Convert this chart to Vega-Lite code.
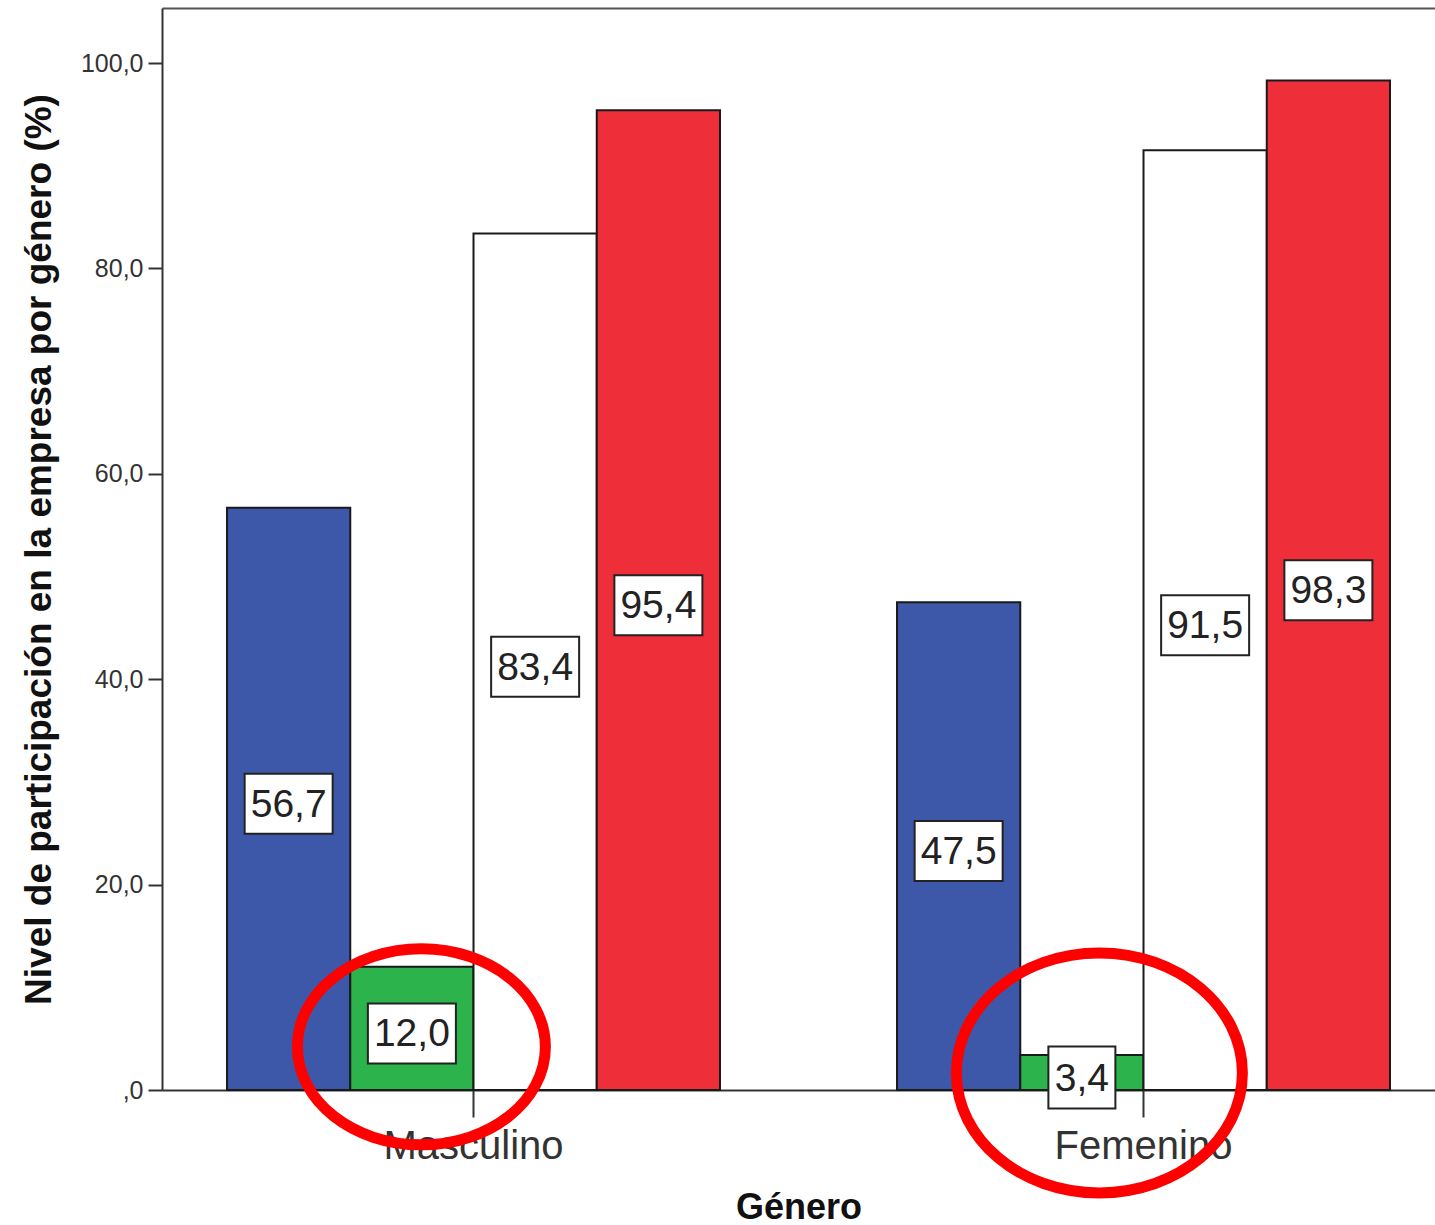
{
  "$schema": "https://vega.github.io/schema/vega-lite/v6.json",
  "autosize": {"type": "none"},
  "padding": {"left": 162, "top": 8, "right": 0, "bottom": 135},
  "width": 1273,
  "height": 1082,
  "background": "white",
  "config": {
    "view": {"stroke": null},
    "font": "Liberation Sans",
    "locale": {"number": {"decimal": ",", "thousands": ".", "grouping": [3], "currency": ["", " €"]}}
  },
  "datasets": {
    "barras": [
      {"genero": "Masculino", "serie": "azul", "valor": 56.7},
      {"genero": "Masculino", "serie": "verde", "valor": 12.0},
      {"genero": "Masculino", "serie": "blanco", "valor": 83.4},
      {"genero": "Masculino", "serie": "rojo", "valor": 95.4},
      {"genero": "Femenino", "serie": "azul", "valor": 47.5},
      {"genero": "Femenino", "serie": "verde", "valor": 3.4},
      {"genero": "Femenino", "serie": "blanco", "valor": 91.5},
      {"genero": "Femenino", "serie": "rojo", "valor": 98.3}
    ],
    "elipses": [
      {"genero": "Masculino", "serie": "verde", "valor": 4.2},
      {"genero": "Femenino", "serie": "verde", "valor": 1.66}
    ]
  },
  "data": {"name": "barras"},
  "encoding": {
    "x": {
      "field": "genero", "type": "nominal", "sort": ["Masculino", "Femenino"],
      "scale": {"paddingInner": 0.2642, "paddingOuter": 0.0821, "align": 0.591},
      "axis": null
    },
    "xOffset": {
      "field": "serie", "type": "nominal", "sort": ["azul", "verde", "blanco", "rojo"],
      "scale": {"paddingInner": 0, "paddingOuter": 0}
    },
    "y": {
      "field": "valor", "type": "quantitative",
      "scale": {"domain": [0, 105.36], "nice": false, "zero": true},
      "axis": {
        "title": "Nivel de participación en la empresa por género (%)",
        "titleFontSize": 37, "titleFontWeight": "bold", "titleColor": "#111111", "titlePadding": 22,
        "values": [0, 20, 40, 60, 80, 100],
        "format": ".1f",
        "labelExpr": "datum.value === 0 ? ',0' : datum.label",
        "labelFontSize": 25, "labelColor": "#333333", "labelPadding": 5,
        "tickSize": 14, "tickWidth": 2, "tickColor": "#333333",
        "domainColor": "#333333", "domainWidth": 2, "grid": false
      }
    }
  },
  "resolve": {"axis": {"x": "independent"}},
  "layer": [
    {
      "mark": {"type": "bar", "stroke": "#1a1a1a", "strokeWidth": 2},
      "encoding": {
        "x": {
          "field": "genero", "type": "nominal", "sort": ["Masculino", "Femenino"],
          "scale": {"paddingInner": 0.2642, "paddingOuter": 0.0821, "align": 0.591},
          "axis": {
            "orient": "bottom", "title": "Género",
            "titleFontSize": 36, "titleFontWeight": "bold", "titleColor": "#111111", "titlePadding": 24,
            "labelFontSize": 40, "labelColor": "#333333", "labelAngle": 0, "labelPadding": 9, "labelLimit": 0,
            "tickSize": 27, "tickWidth": 2, "tickColor": "#333333",
            "domainColor": "#333333", "domainWidth": 2, "grid": false
          }
        },
        "fill": {
          "field": "serie", "type": "nominal",
          "scale": {"domain": ["azul", "verde", "blanco", "rojo"], "range": ["#3d57a9", "#2db34b", "#ffffff", "#ee2f3a"]},
          "legend": null
        }
      }
    },
    {
      "transform": [{"calculate": "datum.valor / 2", "as": "medio"}],
      "layer": [
        {
          "mark": {"type": "point", "filled": true, "fill": "#ffffff", "stroke": "#222222", "strokeWidth": 2, "opacity": 1, "size": 4, "yOffset": 5},
          "encoding": {
            "y": {"field": "medio", "type": "quantitative"},
            "shape": {
              "condition": {"test": "datum.valor < 10", "value": "M-33.5,-31H33.5V31H-33.5Z"},
              "value": "M-44,-30H44V30H-44Z"
            }
          }
        },
        {
          "mark": {"type": "text", "fontSize": 39, "color": "#222222", "align": "center", "baseline": "middle", "dy": 1, "yOffset": 5},
          "encoding": {
            "y": {"field": "medio", "type": "quantitative"},
            "text": {"field": "valor", "type": "quantitative", "format": ".1f"}
          }
        }
      ]
    },
    {
      "data": {"name": "elipses"},
      "mark": {"type": "point", "filled": false, "stroke": "#ff0000", "strokeWidth": 11, "opacity": 1, "size": 4},
      "encoding": {
        "x": {
          "field": "genero", "type": "nominal", "sort": ["Masculino", "Femenino"],
          "scale": {"paddingInner": 0.2642, "paddingOuter": 0.0821, "align": 0.591},
          "axis": {"orient": "top", "labels": false, "ticks": false, "title": null, "domainColor": "#555555", "domainWidth": 2}
        },
        "shape": {
          "condition": {"test": "datum.genero === 'Masculino'", "value": "M-114.5,0A124,98 0 1,0 133.5,0A124,98 0 1,0 -114.5,0Z"},
          "value": "M-125.5,0A143,120 0 1,0 160.5,0A143,120 0 1,0 -125.5,0Z"
        }
      }
    }
  ]
}
